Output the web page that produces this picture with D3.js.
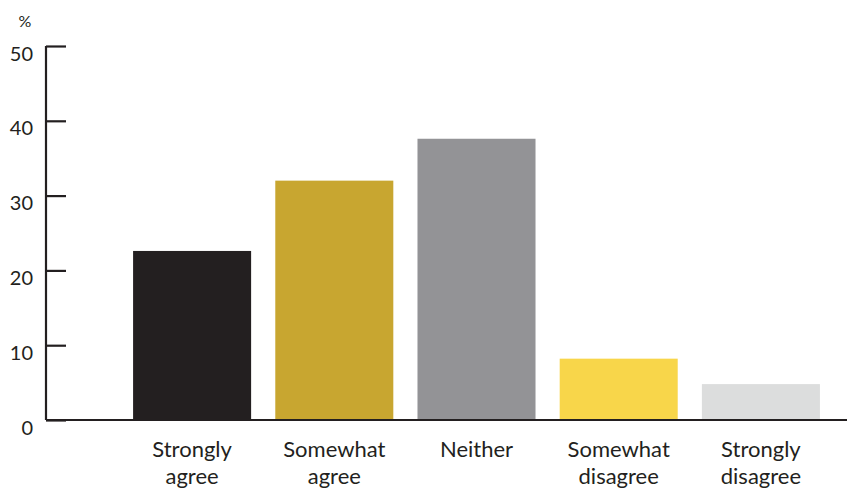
<!DOCTYPE html>
<html>
<head>
<meta charset="utf-8">
<script src="https://cdn.jsdelivr.net/npm/d3@7"></script>
<style>
  html, body { margin: 0; padding: 0; background: #fff; }
  svg text { font-family: "Lato", "Open Sans", sans-serif; fill: #231f20; }
</style>
</head>
<body>
<svg id="chart" width="847" height="490"></svg>
<script>
const categories = ["Strongly agree", "Somewhat agree", "Neither", "Somewhat disagree", "Strongly disagree"];
const values = [22.6, 32.0, 37.6, 8.2, 4.8];
const colors = ["#231f20", "#c8a630", "#939396", "#f8d64a", "#dcdddd"];
const yTicks = [0, 10, 20, 30, 40, 50];
const unitLabel = "%";

const svg = d3.select("#chart");
const x = d3.scaleBand().domain(categories).range([121, 832]).paddingInner(0.17).paddingOuter(0.085);
const y = d3.scaleLinear().domain([0, 50]).range([420, 46]);

svg.selectAll("rect.bar").data(categories).join("rect")
  .attr("class", "bar")
  .attr("x", d => x(d))
  .attr("width", x.bandwidth())
  .attr("y", (d, i) => y(values[i]))
  .attr("height", (d, i) => y(0) - y(values[i]))
  .attr("fill", (d, i) => colors[i]);

// x axis baseline
svg.append("line")
  .attr("x1", 46).attr("x2", 847)
  .attr("y1", y(0)).attr("y2", y(0))
  .attr("stroke", "#231f20").attr("stroke-width", 2);

// y axis
const yAxis = d3.axisLeft(y).tickValues(yTicks).tickSize(-20).tickPadding(0).tickFormat(d3.format("d"));
const gy = svg.append("g").attr("transform", "translate(46,0)").call(yAxis);
gy.select(".domain").attr("d", `M0,${y(50)}V${y(0)}`).attr("stroke", "#231f20").attr("stroke-width", 2.2);
gy.selectAll(".tick line").attr("stroke", "#231f20").attr("stroke-width", 2.2);
gy.selectAll(".tick text")
  .attr("x", -13).attr("dy", "0.7em")
  .style("font-size", "20px").style("font-family", "Lato, 'Open Sans', sans-serif").attr("fill", "#231f20");

svg.append("text").attr("x", 25).attr("y", 27).attr("text-anchor", "middle")
  .style("font-size", "16px").text(unitLabel);

// category labels
const lab = svg.selectAll("text.cat").data(categories).join("text")
  .attr("class", "cat")
  .attr("text-anchor", "middle")
  .attr("x", d => x(d) + x.bandwidth() / 2)
  .attr("y", 457)
  .style("font-size", "22px");
lab.each(function(d) {
  const words = d.split(" ");
  const t = d3.select(this);
  words.forEach((w, i) => {
    t.append("tspan").attr("x", x(d) + x.bandwidth() / 2).attr("dy", i === 0 ? 0 : 27).text(w);
  });
});
</script>
</body>
</html>
